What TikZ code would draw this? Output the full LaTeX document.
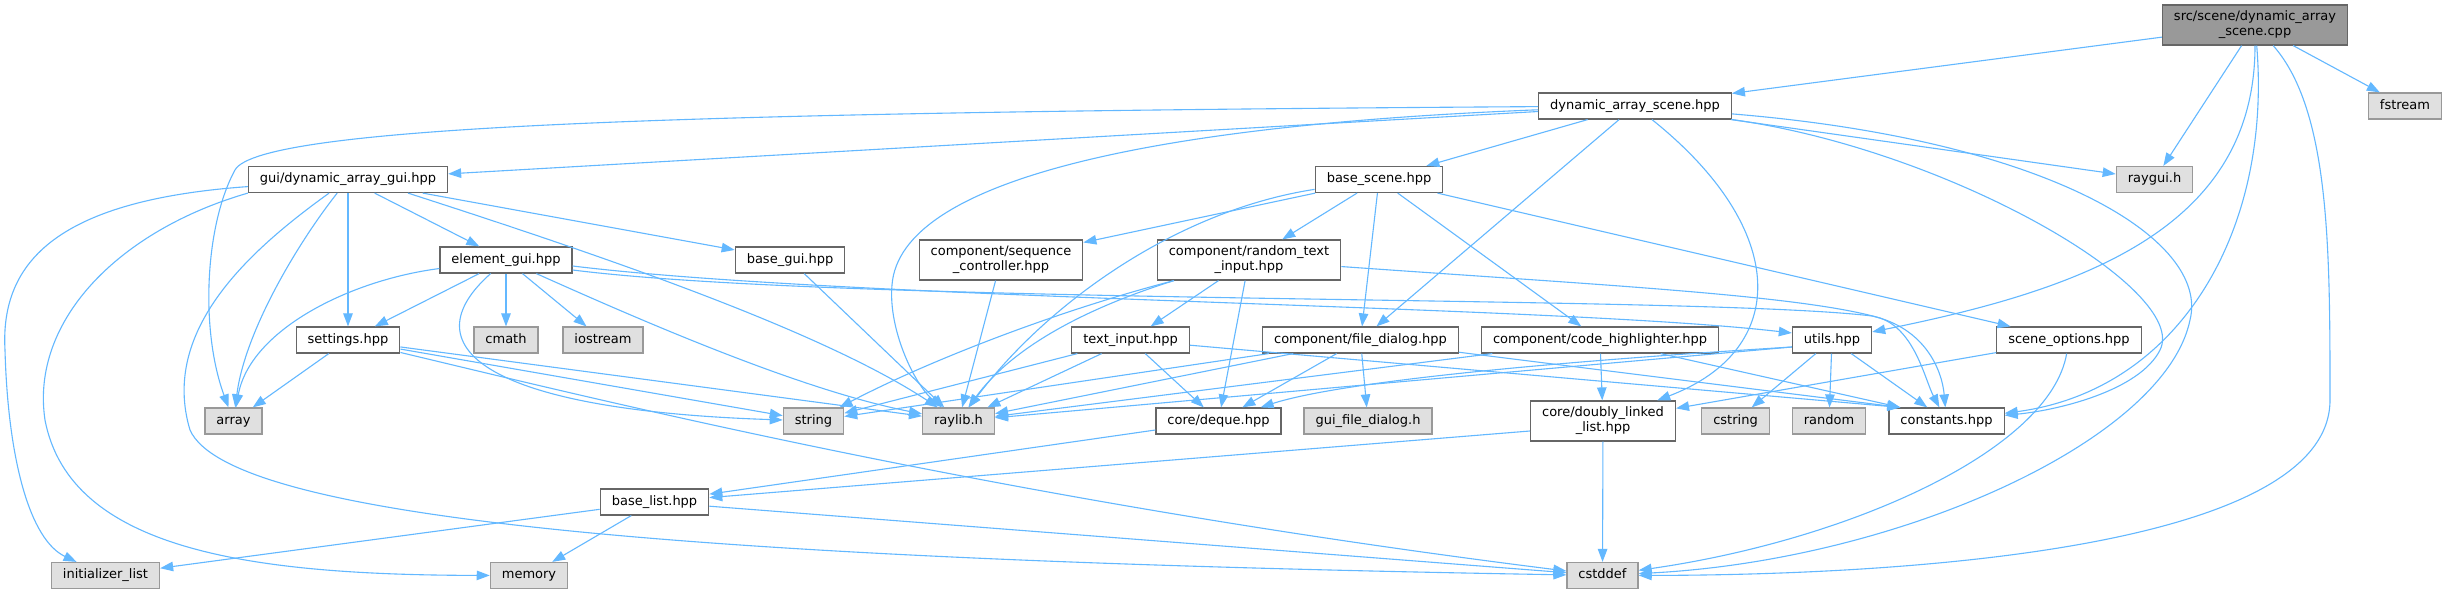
\documentclass[tikz,border=0pt]{standalone}
\usepackage{fontspec}
\newfontfamily\graphfont{DejaVu Sans}
\definecolor{edgeblue}{HTML}{63B8FF}
\definecolor{nodeborder}{HTML}{666666}
\definecolor{extborder}{HTML}{999999}
\definecolor{extfill}{HTML}{E0E0E0}
\definecolor{rootfill}{HTML}{999999}
\usetikzlibrary{arrows.meta}

\begin{document}
\begin{tikzpicture}[
      x=1pt, y=-1pt,
      file/.style={rectangle, draw=nodeborder, fill=white, line width=1.2pt,
                   font=\graphfont\fontsize{13}{15}\selectfont, align=center,
                   inner xsep=11.5pt, inner ysep=6pt, minimum height=26pt,
                   text height=9.6pt, text depth=3pt},
      twoline/.style={text height={}, text depth={}, minimum height=40pt},
      extfile/.style={file, draw=extborder, fill=extfill},
      rootfile/.style={file, twoline, fill=rootfill},
      inc/.style={-{Triangle[length=13pt, width=9.5pt]}, line width=1.1pt, edgeblue}
    ]
      \path[use as bounding box, fill=white] (0,0) rectangle (2447,593);

      % Top rows
      \node[rootfile] (src) at (2255,25) {src/scene/dynamic\_array\\\_scene.cpp};
      \node[file] (dynscene) at (1635,106) {dynamic\_array\_scene.hpp};
      \node[extfile] (fstream) at (2405,106) {fstream};
      \node[file] (gui) at (348,179.5) {gui/dynamic\_array\_gui.hpp};
      \node[file] (basescene) at (1379,179.5) {base\_scene.hpp};
      \node[extfile] (raygui) at (2154.5,179.5) {raygui.h};
      \node[file] (elementgui) at (506,260) {element\_gui.hpp};
      \node[file] (basegui) at (790,260) {base\_gui.hpp};
      \node[file, twoline] (seqctrl) at (1001,260) {component/sequence\\\_controller.hpp};
      \node[file, twoline] (randtext) at (1249,260) {component/random\_text\\\_input.hpp};

      % Middle rows
      \node[file] (settings) at (348,340) {settings.hpp};
      \node[extfile] (cmath) at (506,340) {cmath};
      \node[extfile] (iostream) at (603,340) {iostream};
      \node[file] (textinput) at (1130.5,340) {text\_input.hpp};
      \node[file] (filedialog) at (1360.5,340) {component/file\_dialog.hpp};
      \node[file] (codehl) at (1600,340) {component/code\_highlighter.hpp};
      \node[file] (utils) at (1832,340) {utils.hpp};
      \node[file] (sceneopt) at (2069,340) {scene\_options.hpp};
      \node[extfile] (array) at (233.5,421) {array};
      \node[extfile] (string) at (813.5,421) {string};
      \node[extfile] (raylib) at (958.5,421) {raylib.h};
      \node[file] (deque) at (1218.5,421) {core/deque.hpp};
      \node[extfile] (guifd) at (1368,421) {gui\_file\_dialog.h};
      \node[file, twoline] (dll) at (1603,421) {core/doubly\_linked\\\_list.hpp};
      \node[extfile] (cstring) at (1735.5,421) {cstring};
      \node[extfile] (random) at (1829,421) {random};
      \node[file] (constants) at (1946.5,421) {constants.hpp};

      % Bottom rows
      \node[file] (baselist) at (654.5,502) {base\_list.hpp};
      \node[extfile] (initlist) at (105.5,575.5) {initializer\_list};
      \node[extfile] (memory) at (529,575.5) {memory};
      \node[extfile] (cstddef) at (1602.5,575.5) {cstddef};

      % Includes of the scene source
      \draw[inc] (src) -- (dynscene);
      \draw[inc] (src) -- (fstream);
      \draw[inc] (src) -- (raygui);
      \draw[inc] (src) .. controls (2255,230) and (2080,290) .. (utils);
      \draw[inc] (src) .. controls (2272,230) and (2180,390) .. (constants);
      \draw[inc] (src) .. controls (2330,110) and (2330,250) .. (2330,400)
                       .. controls (2330,540) and (1950,575) .. (cstddef);

      % dynamic_array_scene.hpp
      \draw[inc] (dynscene) -- (gui);
      \draw[inc] (dynscene) .. controls (700,112) and (260,125) .. (235,170)
                            .. controls (205,225) and (200,330) .. (array);
      \draw[inc] (dynscene) .. controls (1150,125) and (900,180) .. (892,285)
                            .. controls (888,330) and (915,385) .. (raylib);
      \draw[inc] (dynscene) -- (basescene);
      \draw[inc] (dynscene) -- (filedialog);
      \draw[inc] (dynscene) .. controls (1790,230) and (1790,350) .. (dll);
      \draw[inc] (dynscene) -- (raygui);
      \draw[inc] (dynscene) .. controls (1950,150) and (2190,290) .. (2160,350)
                            .. controls (2140,390) and (2060,410) .. (constants);
      \draw[inc] (dynscene) .. controls (2050,140) and (2210,240) .. (2190,320)
                            .. controls (2165,440) and (1900,560) .. (cstddef);

      % gui/dynamic_array_gui.hpp
      \draw[inc] (gui) .. controls (60,200) and (0,260) .. (5,350)
                       .. controls (8,460) and (30,540) .. (initlist);
      \draw[inc] (gui.south west) .. controls (120,230) and (30,320) .. (45,420)
                                  .. controls (70,550) and (250,575) .. (memory);
      \draw[inc] (gui) .. controls (250,250) and (160,330) .. (190,430)
                       .. controls (230,520) and (700,560) .. (cstddef);
      \draw[inc] (gui) .. controls (300,240) and (245,330) .. (array);
      \draw[inc] (gui) -- (settings);
      \draw[inc] (gui) -- (elementgui);
      \draw[inc] ([xshift=60pt]gui.south) .. controls (600,255) and (820,330) .. (raylib);
      \draw[inc] (gui) -- (basegui);

      % element_gui.hpp
      \draw[inc] (elementgui) -- (settings);
      \draw[inc] (elementgui) .. controls (350,280) and (250,330) .. (array);
      \draw[inc] (elementgui) .. controls (410,345) and (480,410) .. (string);
      \draw[inc] (elementgui) -- (cmath);
      \draw[inc] (elementgui) -- (iostream);
      \draw[inc] (elementgui) .. controls (640,320) and (800,390) .. (raylib);
      \draw[inc] ([yshift=-6pt]elementgui.east) .. controls (850,300) and (1550,305)
                 .. ([yshift=7pt]utils.west);
      \draw[inc] ([yshift=-10pt]elementgui.east) .. controls (850,305) and (1700,295) .. (1872,316)
                 .. controls (1925,328) and (1942,370) .. (constants);

      \draw[inc] (basegui) -- (raylib);

      % base_scene.hpp
      \draw[inc] (basescene) -- (seqctrl);
      \draw[inc] (basescene) .. controls (1180,210) and (1050,300) .. (raylib);
      \draw[inc] (basescene) -- (randtext);
      \draw[inc] (basescene) -- (filedialog);
      \draw[inc] (basescene) -- (codehl);
      \draw[inc] (basescene) -- (sceneopt);

      \draw[inc] (seqctrl) -- (raylib);

      % component/random_text_input.hpp
      \draw[inc] ([xshift=-75pt]randtext.south) .. controls (1060,310) and (930,360) .. (string);
      \draw[inc] ([xshift=-75pt]randtext.south) .. controls (1080,310) and (1010,350) .. (raylib);
      \draw[inc] (randtext) -- (textinput);
      \draw[inc] (randtext) -- (deque);
      \draw[inc] (randtext) .. controls (1600,285) and (1800,295) .. (1880,318)
                            .. controls (1915,330) and (1925,380) .. (constants);

      % text_input.hpp
      \draw[inc] (textinput) -- (string);
      \draw[inc] (textinput) -- (raylib);
      \draw[inc] (textinput) -- (deque);
      \draw[inc] (textinput) -- ([xshift=12pt]constants.north west);

      % component/file_dialog.hpp
      \draw[inc] (filedialog) -- (string);
      \draw[inc] (filedialog) -- (raylib);
      \draw[inc] (filedialog) -- (deque);
      \draw[inc] (filedialog) -- (guifd);
      \draw[inc] (filedialog) -- ([xshift=12pt]constants.north west);

      % component/code_highlighter.hpp
      \draw[inc] (codehl) -- (raylib);
      \draw[inc] (codehl) -- (dll);
      \draw[inc] (codehl) -- ([xshift=12pt]constants.north west);

      % utils.hpp
      \draw[inc] ([yshift=-7pt]utils.west) -- (raylib);
      \draw[inc] ([yshift=-7pt]utils.west) .. controls (1500,365) and (1330,385) .. (deque);
      \draw[inc] (utils) -- (cstring);
      \draw[inc] (utils) -- (random);
      \draw[inc] (utils) -- (constants);

      % scene_options.hpp
      \draw[inc] (sceneopt) -- (dll);
      \draw[inc] (sceneopt) .. controls (2050,450) and (1850,540) .. (cstddef);

      % settings.hpp
      \draw[inc] (settings) -- (array);
      \draw[inc] (settings) -- (string);
      \draw[inc] (settings) -- (raylib);
      \draw[inc] (settings) .. controls (600,400) and (1000,500) .. (cstddef);

      % Containers
      \draw[inc] (deque) -- (baselist);
      \draw[inc] ([yshift=-10pt]dll.west) -- (baselist);
      \draw[inc] (dll) -- (cstddef);
      \draw[inc] (baselist) -- (initlist);
      \draw[inc] (baselist) -- (memory);
      \draw[inc] (baselist) -- (cstddef);
    \end{tikzpicture}
\end{document}
